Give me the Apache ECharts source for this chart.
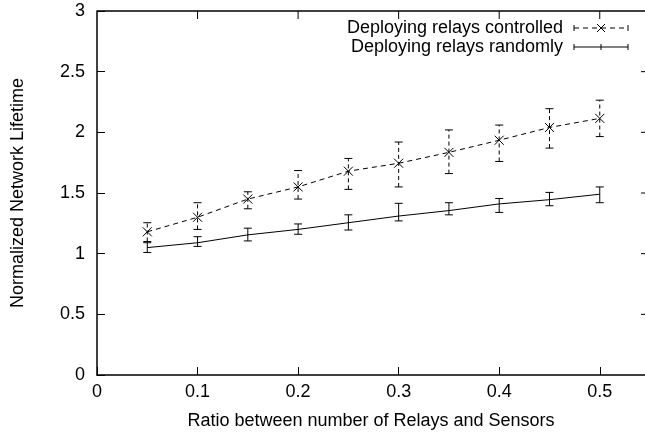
<!DOCTYPE html>
<html><head><meta charset="utf-8">
<script src="https://cdn.jsdelivr.net/npm/echarts@6/dist/echarts.min.js"></script>
<style>html,body{margin:0;padding:0;background:#fff}#c{width:645px;height:437px}</style>
</head><body><div id="c"></div>
<script>
var xValues = [0.05, 0.1, 0.15, 0.2, 0.25, 0.3, 0.35, 0.4, 0.45, 0.5];
var ctrlMean = [1.18, 1.30, 1.45, 1.55, 1.68, 1.745, 1.835, 1.935, 2.04, 2.115];
var ctrlLow  = [1.10, 1.20, 1.37, 1.45, 1.53, 1.55, 1.66, 1.76, 1.87, 1.965];
var ctrlHigh = [1.255, 1.42, 1.51, 1.685, 1.785, 1.92, 2.02, 2.06, 2.195, 2.265];
var randMean = [1.05, 1.09, 1.155, 1.20, 1.255, 1.31, 1.355, 1.41, 1.445, 1.49];
var randLow  = [1.01, 1.06, 1.105, 1.16, 1.195, 1.27, 1.32, 1.34, 1.395, 1.42];
var randHigh = [1.09, 1.14, 1.21, 1.245, 1.32, 1.415, 1.42, 1.455, 1.505, 1.55];
var xTicks = [0.1, 0.2, 0.3, 0.4, 0.5];
var yTicks = [0.5, 1, 1.5, 2, 2.5];
var seriesNames = ['Deploying relays controlled', 'Deploying relays randomly'];
var xTitle = 'Ratio between number of Relays and Sensors';
var yTitle = 'Normalized Network Lifetime';

var FONT = 'Liberation Sans, Arial, sans-serif';
var FS = 18;
var X_MAX = 0.545, Y_MAX = 3;
function pairs(xs, ys){ return xs.map(function(x,i){return [x, ys[i]];}); }
function errData(xs, lo, hi, mid){ return xs.map(function(x,i){return [x, lo[i], hi[i], mid[i]];}); }
function tenth(v){ return (Math.abs(v*10-Math.round(v*10))<1e-6) ? String(Math.round(v*10)/10) : ''; }

function errRender(dashed, marker){
  return function(params, api){
    var x = api.value(0);
    var p1 = api.coord([x, api.value(1)]);
    var p2 = api.coord([x, api.value(2)]);
    var pm = api.coord([x, api.value(3)]);
    var st = {stroke:'#000', lineWidth:1, lineDash: dashed ? [4,3] : null};
    var cw = 4;
    var ch = [
      {type:'line', shape:{x1:p1[0],y1:p1[1],x2:p2[0],y2:p2[1]}, style:st},
      {type:'line', shape:{x1:p1[0]-cw,y1:p1[1],x2:p1[0]+cw,y2:p1[1]}, style:{stroke:'#000',lineWidth:1}},
      {type:'line', shape:{x1:p2[0]-cw,y1:p2[1],x2:p2[0]+cw,y2:p2[1]}, style:{stroke:'#000',lineWidth:1}}
    ];
    if (marker) {
      var s = 4.5;
      ch.push({type:'line', shape:{x1:pm[0]-s,y1:pm[1]-s,x2:pm[0]+s,y2:pm[1]+s}, style:{stroke:'#000',lineWidth:1}});
      ch.push({type:'line', shape:{x1:pm[0]-s,y1:pm[1]+s,x2:pm[0]+s,y2:pm[1]-s}, style:{stroke:'#000',lineWidth:1}});
    }
    return {type:'group', children:ch};
  };
}

var chart = echarts.init(document.getElementById('c'), null, {renderer:'canvas'});
var lx = 574, rx = 628, y1 = 28, y2 = 47, mx = 601;
var blk = {stroke:'#000', lineWidth:1};
var legendGraphics = [
  {type:'text', x:563, y:y1, style:{text:seriesNames[0], fill:'#000', font:FS + 'px ' + FONT, textAlign:'right', textVerticalAlign:'middle'}},
  {type:'text', x:563, y:y2, style:{text:seriesNames[1], fill:'#000', font:FS + 'px ' + FONT, textAlign:'right', textVerticalAlign:'middle'}},
  {type:'line', shape:{x1:lx,y1:y1,x2:rx,y2:y1}, style:{stroke:'#000', lineWidth:1, lineDash:[5,4]}},
  {type:'line', shape:{x1:lx,y1:y1-3,x2:lx,y2:y1+3}, style:blk},
  {type:'line', shape:{x1:rx,y1:y1-3,x2:rx,y2:y1+3}, style:blk},
  {type:'line', shape:{x1:mx-4,y1:y1-4,x2:mx+4,y2:y1+4}, style:blk},
  {type:'line', shape:{x1:mx-4,y1:y1+4,x2:mx+4,y2:y1-4}, style:blk},
  {type:'line', shape:{x1:lx,y1:y2,x2:rx,y2:y2}, style:blk},
  {type:'line', shape:{x1:lx,y1:y2-3,x2:lx,y2:y2+3}, style:blk},
  {type:'line', shape:{x1:rx,y1:y2-3,x2:rx,y2:y2+3}, style:blk},
  {type:'line', shape:{x1:mx,y1:y2-3,x2:mx,y2:y2+3}, style:blk}
];
chart.setOption({
  animation:false,
  backgroundColor:'#fff',
  grid:{left:97, right:0, top:11, bottom:62},
  xAxis:{type:'value', min:0, max:X_MAX, interval:0.1, position:'bottom',
     name:xTitle, nameLocation:'middle', nameGap:37,
     nameTextStyle:{color:'#000', fontFamily:FONT, fontSize:FS},
     axisLine:{show:true, onZero:false, lineStyle:{color:'#000', width:1.5}},
     axisTick:{show:true, inside:true, length:8, lineStyle:{color:'#000', width:1}},
     axisLabel:{color:'#000', fontFamily:FONT, fontSize:FS, margin:8, showMaxLabel:false, formatter:tenth},
     splitLine:{show:false}},
  yAxis:{type:'value', min:0, max:Y_MAX, interval:0.5, position:'left',
     name:yTitle, nameLocation:'middle', nameGap:70, nameRotate:90,
     nameTextStyle:{color:'#000', fontFamily:FONT, fontSize:FS},
     axisLine:{show:true, onZero:false, lineStyle:{color:'#000', width:1.5}},
     axisTick:{show:true, inside:true, length:8, lineStyle:{color:'#000', width:1}},
     axisLabel:{color:'#000', fontFamily:FONT, fontSize:FS, margin:12}, splitLine:{show:false}},
  series:[
    {name:seriesNames[0], type:'line', data:pairs(xValues, ctrlMean), symbol:'none',
     lineStyle:{color:'#000', width:1, type:[5,4]}, z:3},
    {name:seriesNames[1], type:'line', data:pairs(xValues, randMean), symbol:'none',
     lineStyle:{color:'#000', width:1}, z:3},
    {type:'custom', renderItem:errRender(true, true), data:errData(xValues, ctrlLow, ctrlHigh, ctrlMean), z:4},
    {type:'custom', renderItem:errRender(false, false), data:errData(xValues, randLow, randHigh, randMean), z:4}
  ],
  graphic:legendGraphics
});

// frame (top border, top ticks, right ticks) positioned through the chart's own scales
var frame = [];
try {
  var finder = {xAxisIndex:0, yAxisIndex:0};
  var tl = chart.convertToPixel(finder, [0, Y_MAX]);
  var tr = chart.convertToPixel(finder, [X_MAX, Y_MAX]);
  frame.push({type:'line', z:100, shape:{x1:tl[0], y1:tl[1], x2:tr[0], y2:tr[1]}, style:{stroke:'#000', lineWidth:1.5}});
  xTicks.forEach(function(v){
    var p = chart.convertToPixel(finder, [v, Y_MAX]);
    frame.push({type:'line', z:100, shape:{x1:p[0], y1:p[1], x2:p[0], y2:p[1]+8}, style:blk});
  });
  yTicks.forEach(function(v){
    var p = chart.convertToPixel(finder, [X_MAX, v]);
    frame.push({type:'line', z:100, shape:{x1:p[0], y1:p[1], x2:p[0]-4, y2:p[1]}, style:blk});
  });
} catch (e) {}
chart.setOption({graphic: legendGraphics.concat(frame)}, {replaceMerge:['graphic']});
</script></body></html>
